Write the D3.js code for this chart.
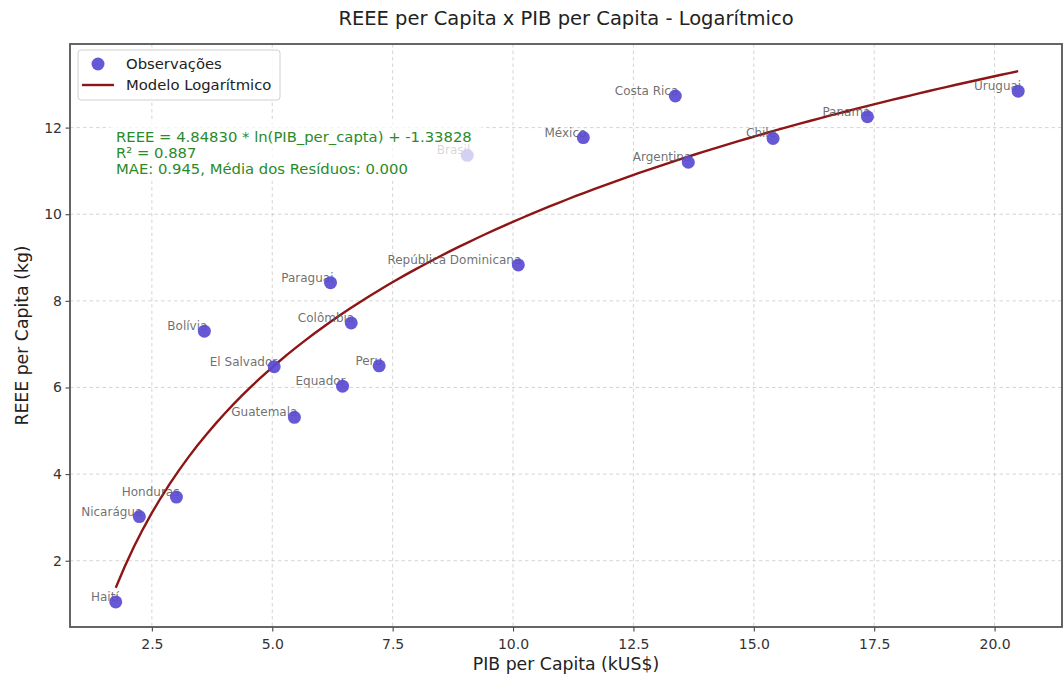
<!DOCTYPE html>
<html><head><meta charset="utf-8">
<script src="https://cdn.jsdelivr.net/npm/d3@7"></script>
<style>body{margin:0;background:#fff;} svg{display:block;font-family:"DejaVu Sans",sans-serif;}</style>
</head><body><svg id="c" width="1064" height="678"></svg>
<script>
const countries = ["Haití","Nicarágua","Honduras","Bolívia","El Salvador","Guatemala","Paraguai","Colômbia","Equador","Peru","Brasil","República Dominicana","México","Costa Rica","Argentina","Chile","Panamá","Uruguai"];
const pibPerCapita = [1.75,2.24,3.01,3.59,5.04,5.46,6.21,6.64,6.46,7.22,9.05,10.11,11.46,13.37,13.64,15.40,17.36,20.49];
const reeePerCapita = [1.05,3.02,3.47,7.30,6.48,5.31,8.42,7.49,6.03,6.50,11.36,8.83,11.77,12.73,11.20,11.75,12.25,12.84];
const modelA = 4.84830, modelB = -1.33828;
const rSquared = 0.887, mae = 0.945, meanResidual = 0.000;
const xTicks = [2.5,5.0,7.5,10.0,12.5,15.0,17.5,20.0];
const yTicks = [2,4,6,8,10,12];

const svg = d3.select("#c");
const L=70, R=1062, T=44, B=627;
const x = d3.scaleLinear().domain([0.8,21.4]).range([L,R]);
const y = d3.scaleLinear().domain([0.47,13.93]).range([B,T]);

// grid
const g = svg.append("g");
g.selectAll(".gx").data(xTicks).join("line").attr("x1",d=>x(d)).attr("x2",d=>x(d)).attr("y1",T).attr("y2",B)
 .attr("stroke","#b0b0b0").attr("stroke-opacity",0.6).attr("stroke-dasharray","3.5,3").attr("stroke-width",0.9);
g.selectAll(".gy").data(yTicks).join("line").attr("y1",d=>y(d)).attr("y2",d=>y(d)).attr("x1",L).attr("x2",R)
 .attr("stroke","#b0b0b0").attr("stroke-opacity",0.6).attr("stroke-dasharray","3.5,3").attr("stroke-width",0.9);

// axes
const xAxis = svg.append("g").attr("transform",`translate(0,${B})`)
 .call(d3.axisBottom(x).tickValues(xTicks).tickFormat(d3.format(".1f")).tickSize(4.5).tickSizeOuter(0));
const yAxis = svg.append("g").attr("transform",`translate(${L},0)`)
 .call(d3.axisLeft(y).tickValues(yTicks).tickFormat(d3.format("d")).tickSize(4.5).tickSizeOuter(0));
[xAxis,yAxis].forEach(a=>{
  a.select(".domain").remove();
  a.selectAll("line").attr("stroke","#444").attr("stroke-width",1.1);
  a.selectAll("text").attr("fill","#333").style("font-size","14px").style("font-family","DejaVu Sans");
});
xAxis.selectAll("text").attr("dy","1.0em");
yAxis.selectAll("text").attr("x",-8);
// frame
svg.append("rect").attr("x",L).attr("y",T).attr("width",R-L).attr("height",B-T)
 .attr("fill","none").attr("stroke","#555").attr("stroke-width",1.8);

// model curve
const xmin = d3.min(pibPerCapita), xmax = d3.max(pibPerCapita);
const curveX = d3.range(0,101).map(i=>xmin+(xmax-xmin)*i/100);
svg.append("path").datum(curveX)
 .attr("d", d3.line().x(d=>x(d)).y(d=>y(modelA*Math.log(d)+modelB)))
 .attr("fill","none").attr("stroke","#8e1515").attr("stroke-width",2.4);

// labels
const pts = countries.map((c,i)=>({c, px:pibPerCapita[i], py:reeePerCapita[i]}));
svg.selectAll(".lab").data(pts).join("text")
 .attr("x",d=>x(d.px)+3).attr("y",d=>y(d.py)-1)
 .attr("text-anchor","end").attr("fill","#555").attr("fill-opacity",0.85)
 .style("font-size","12px").text(d=>d.c);

// points
svg.selectAll(".pt").data(pts).join("circle")
 .attr("cx",d=>x(d.px)).attr("cy",d=>y(d.py)).attr("r",6.5)
 .attr("fill","#5a4bd1").attr("fill-opacity",0.92);

// annotation box
svg.append("rect").attr("x",110).attr("y",121).attr("width",372).attr("height",60)
 .attr("fill","#fff").attr("fill-opacity",0.72);
const ann = [`REEE = ${modelA.toFixed(5)} * ln(PIB_per_capta) + ${modelB.toFixed(5)}`,
  `R² = ${rSquared.toFixed(3)}`, `MAE: ${mae.toFixed(3)}, Média dos Resíduos: ${meanResidual.toFixed(3)}`];
svg.selectAll(".ann").data(ann).join("text").attr("x",116).attr("y",(d,i)=>142+i*16)
 .attr("fill","#2a8a2a").style("font-size","14.8px").text(d=>d);

// legend
svg.append("rect").attr("x",78).attr("y",50).attr("width",202).attr("height",50).attr("rx",3)
 .attr("fill","#fff").attr("fill-opacity",0.85).attr("stroke","#d0d0d0");
svg.append("circle").attr("cx",98).attr("cy",64).attr("r",6.5).attr("fill","#5a4bd1").attr("fill-opacity",0.92);
svg.append("line").attr("x1",82).attr("x2",114).attr("y1",85).attr("y2",85).attr("stroke","#8e1515").attr("stroke-width",2.4);
svg.append("text").attr("x",126).attr("y",69).attr("fill","#222").style("font-size","14.8px").text("Observações");
svg.append("text").attr("x",126).attr("y",90).attr("fill","#222").style("font-size","14.8px").text("Modelo Logarítmico");

// titles
svg.append("text").attr("x",(L+R)/2).attr("y",25).attr("text-anchor","middle").attr("fill","#222").style("font-size","19.5px")
 .text("REEE per Capita x PIB per Capita - Logarítmico");
svg.append("text").attr("x",(L+R)/2).attr("y",670).attr("text-anchor","middle").attr("fill","#222").style("font-size","17.3px")
 .text("PIB per Capita (kUS$)");
svg.append("text").attr("transform",`translate(28,${(T+B)/2}) rotate(-90)`).attr("text-anchor","middle").attr("fill","#222").style("font-size","17.3px")
 .text("REEE per Capita (kg)");
</script></body></html>
